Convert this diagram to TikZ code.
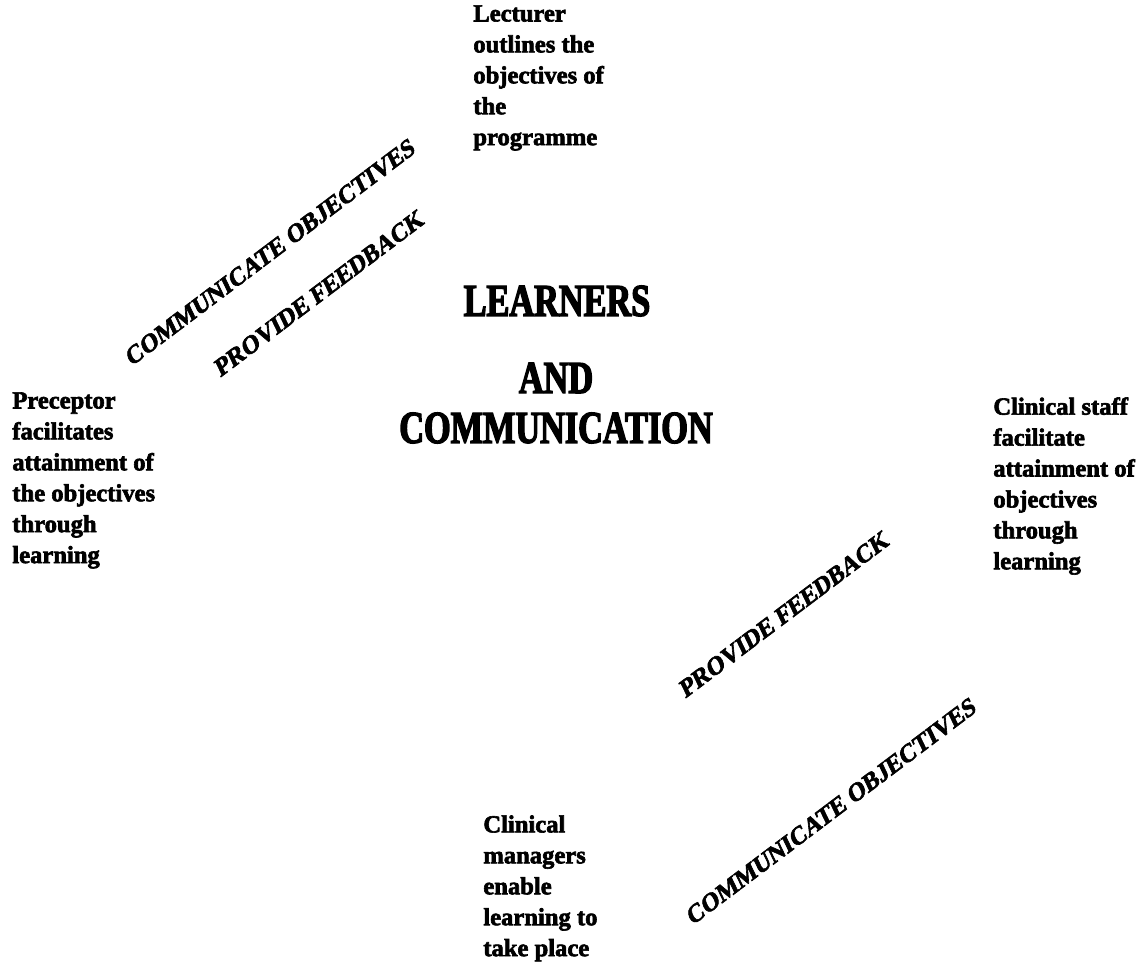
\documentclass[tikz,border=0pt]{standalone}
\usepackage{fontspec}
\usepackage{tikz}
\setmainfont{Liberation Serif}[BoldFeatures={FakeBold=2.5}]
\newfontfamily\headfont{Liberation Serif}[FakeStretch=0.75,BoldFeatures={FakeBold=3}]
\newfontfamily\tagfont{Liberation Serif}[FakeSlant=0.2,BoldFeatures={FakeBold=2.5}]
\newcommand{\bodysize}{\fontsize{14pt}{17.6pt}\selectfont}

\begin{document}
\begin{tikzpicture}[x=0.02cm,y=-0.02cm,
  blurb/.style={anchor=north west,inner sep=0pt,align=left,font=\bodysize\bfseries},
  heading/.style={inner sep=0pt,font=\headfont\fontsize{26pt}{30pt}\selectfont\bfseries},
  tag/.style={inner sep=0pt,rotate=37,font=\tagfont\fontsize{14pt}{16pt}\selectfont\bfseries}]
\useasboundingbox (0,0) rectangle (1145,972);

\node[blurb] (lecturer) at (473,5) {Lecturer\\outlines the\\objectives of\\the\\programme};
\node[blurb] (preceptor) at (12,392) {Preceptor\\facilitates\\attainment of\\the objectives\\through\\learning};
\node[blurb] (staff) at (993,397) {Clinical staff\\facilitate\\attainment of\\objectives\\through\\learning};
\node[blurb] (managers) at (483,815) {Clinical\\managers\\enable\\learning to\\take place};

\node[heading] (learners) at (557,301) {LEARNERS};
\node[heading] (and) at (556,378) {AND};
\node[heading] (communication) at (556,428) {COMMUNICATION};

\node[tag] (objleft) at (269,253) {COMMUNICATE OBJECTIVES};
\node[tag] (fbleft) at (318,294) {PROVIDE FEEDBACK};
\node[tag] (fbright) at (783,615) {PROVIDE FEEDBACK};
\node[tag] (objright) at (830,812) {COMMUNICATE OBJECTIVES};
\end{tikzpicture}
\end{document}
